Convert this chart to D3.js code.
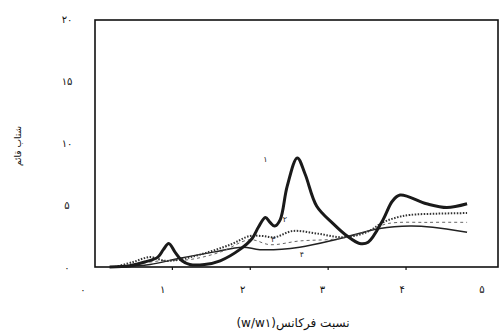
<!DOCTYPE html>
<html><head><meta charset="utf-8">
<script src="https://cdn.jsdelivr.net/npm/d3@7"></script>
<style>body{margin:0;background:#fff}svg{display:block}</style>
</head><body>
<svg id="c" width="501" height="334"></svg>
<script>
// Data (x = frequency ratio w/w1, y = vertical acceleration)
const curve1X = [0.2,0.46,0.65,0.82,0.89,0.96,1.04,1.13,1.23,1.42,1.62,1.87,2.03,2.11,2.2,2.26,2.32,2.39,2.48,2.61,2.71,2.86,3.07,3.25,3.41,3.52,3.71,3.83,3.93,4.27,4.53,4.79];
const curve1Y = [0,0.1,0.4,0.8,1.4,1.9,1.2,0.5,0.2,0.2,0.5,1.4,2.3,3.2,4.0,3.6,3.3,3.8,6.5,8.8,7.5,4.9,3.5,2.5,1.9,2.0,3.8,5.3,5.8,5.1,4.8,5.1];
const curve2X = [0.27,0.5,0.72,0.91,1.1,1.36,1.75,2.0,2.16,2.32,2.55,2.86,3.2,3.5,3.71,3.89,4.06,4.4,4.79];
const curve2Y = [0,0.4,0.8,0.5,0.6,1.0,1.8,2.5,2.5,2.4,2.9,2.7,2.4,2.8,3.6,4.0,4.2,4.3,4.35];
const curve3X = [0.33,0.85,1.23,1.62,2.0,2.26,2.64,3.16,3.52,3.77,4.3,4.79];
const curve3Y = [0,0.5,0.6,1.2,2.2,1.8,2.1,2.3,2.9,3.5,3.6,3.6];
const curve4X = [0.33,0.72,1.1,1.53,1.91,2.13,2.64,3.16,3.67,4.06,4.35,4.79];
const curve4Y = [0,0.2,0.7,1.2,1.6,1.4,1.6,2.3,3.1,3.3,3.2,2.8];
const xTicks = [0,1,2,3,4,5];
const xTickLabels = ["۰","۱","۲","۳","۴","۵"];
const yTicks = [0,5,10,15,20];
const yTickLabels = ["۰","۵","۱۰","۱۵","۲۰"];
const curveLabels = ["۱","۲","۳","۴"];
const curveLabelPos = [[2.2,8.5],[2.45,3.6],[2.3,2.0],[2.67,0.8]];

const svg = d3.select("#c");
const L=95, R=499, T=20, B=267;
const x = d3.scaleLinear().domain([0,5.2]).range([94,499]);
const xLab = d3.scaleLinear().domain([0,5]).range([83,482]);
const y = d3.scaleLinear().domain([0,20]).range([267,19]);
const font = "DejaVu Sans, sans-serif";

// frame
svg.append("rect").attr("x",L).attr("y",T).attr("width",R-L-1).attr("height",B-T)
  .attr("fill","none").attr("stroke","#111").attr("stroke-width",1.6);

// ticks on bottom axis
const ax = d3.axisBottom(x).tickValues(xTicks.slice(1,5)).tickSize(3).tickFormat("");
svg.append("g").attr("transform",`translate(0,${B})`).call(ax)
  .call(g=>g.select(".domain").remove())
  .call(g=>g.selectAll("line").attr("stroke","#111").attr("stroke-width",1.2));

// tick labels
svg.selectAll("text.xl").data(xTicks).enter().append("text")
  .attr("x",d=>xLab(d)).attr("y",293).attr("text-anchor","middle")
  .attr("font-family",font).attr("font-size",10).attr("fill","#111")
  .text((d,i)=>xTickLabels[i]);
svg.selectAll("text.yl").data(yTicks).enter().append("text")
  .attr("x",67).attr("y",d=>y(d)).attr("dy","0.35em").attr("text-anchor","middle")
  .attr("font-family",font).attr("font-size",10).attr("fill","#111")
  .text((d,i)=>yTickLabels[i]);

// axis titles
svg.append("text").attr("x",293).attr("y",327).attr("text-anchor","middle")
  .attr("direction","ltr").attr("font-family",font).attr("font-size",12).attr("fill","#111")
  .text("(w/w۱)نسبت فرکانس");
svg.append("text").attr("transform","translate(21,146) rotate(-90)").attr("text-anchor","middle")
  .attr("font-family",font).attr("font-size",9).attr("fill","#111")
  .text("شتاب قائم");

const line = d3.line().x(d=>x(d[0])).y(d=>y(d[1])).curve(d3.curveCatmullRom.alpha(0.5));
const zip = (a,b)=>a.map((v,i)=>[v,b[i]]);

svg.append("path").datum(zip(curve4X,curve4Y)).attr("d",line)
  .attr("fill","none").attr("stroke","#222").attr("stroke-width",1.5);
svg.append("path").datum(zip(curve3X,curve3Y)).attr("d",line)
  .attr("fill","none").attr("stroke","#666").attr("stroke-width",1).attr("stroke-dasharray","3,3");
svg.append("path").datum(zip(curve2X,curve2Y)).attr("d",line)
  .attr("fill","none").attr("stroke","#333").attr("stroke-width",2).attr("stroke-dasharray","1.5,1.5");
svg.append("path").datum(zip(curve1X,curve1Y)).attr("d",line)
  .attr("fill","none").attr("stroke","#1a1a1a").attr("stroke-width",3).attr("stroke-linejoin","round");

svg.selectAll("text.cl").data(curveLabelPos).enter().append("text")
  .attr("x",d=>x(d[0])).attr("y",d=>y(d[1])).attr("text-anchor","middle")
  .attr("font-family",font).attr("font-size",8).attr("fill","#222")
  .text((d,i)=>curveLabels[i]);
</script>
</body></html>
